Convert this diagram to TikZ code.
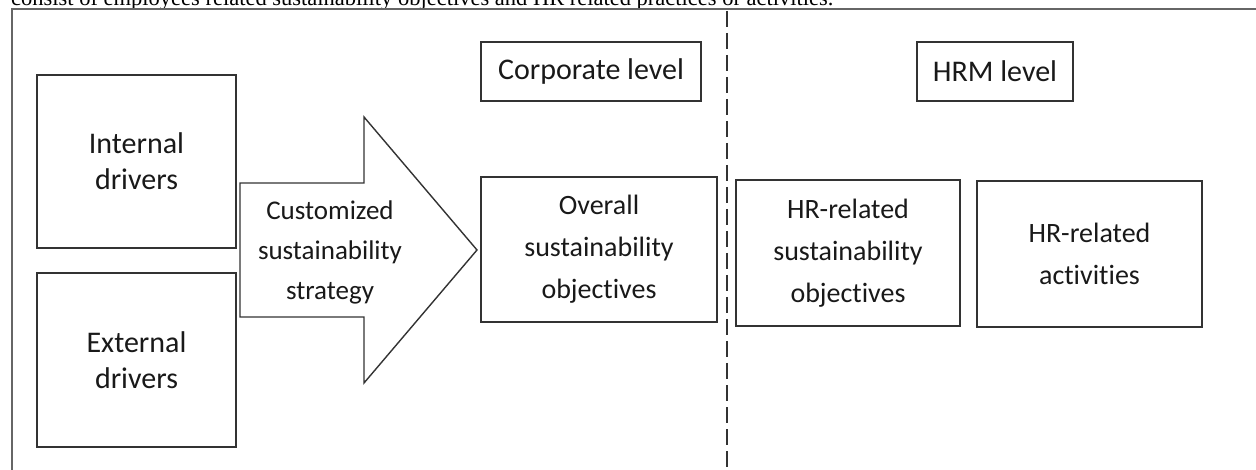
\documentclass[tikz,border=0pt]{standalone}
\usepackage{fontspec}
\setmainfont{Carlito}[Ligatures=NoCommon]
\newfontfamily\bodyserif{Liberation Serif}

\begin{document}
\begin{tikzpicture}[x=1pt,y=-1pt,
	line/.style={draw=black!80,line width=1.4pt},
	box/.style={line,align=center,inner sep=0pt,text=black!90,font=\fontsize{28}{42}\selectfont},
	label/.style={box,font=\fontsize{30}{36}\selectfont}]
	\useasboundingbox (0,0) rectangle (1256,470);
	\clip (0,0) rectangle (1256,470);
	
	% line of running text cut off above the figure
	\node[anchor=base west,inner sep=0pt,font=\bodyserif\fontsize{22.5}{22.5}\selectfont] (runtext) at (11,6)
		{consist of employees related sustainability objectives and HR related practices or activities.};
	
	% frame and divider
	\draw[line,draw=black!60] (1256,9) -- (12,9) -- (12,470);
	\draw[line,line width=1.3pt,dash pattern=on 16pt off 6pt] (727,11) -- (727,470);
	
	% drivers
	\node[label,minimum width=199pt,minimum height=173pt] (internal) at (136.5,161.5) {Internal\\drivers};
	\node[label,minimum width=199pt,minimum height=174pt] (external) at (136.5,360) {External\\drivers};
	
	% strategy arrow
	\draw[line,fill=white] (240,183) -- (364,183) -- (364,117) -- (477,250)
		-- (364,383) -- (364,317) -- (240,317) -- cycle;
	\node[align=center,text=black!90,font=\fontsize{27}{40}\selectfont] (strategy) at (330,252)
		{Customized\\sustainability\\strategy};
	
	% level headings
	\node[label,minimum width=220pt,minimum height=59pt] (corporate) at (591,71.5) {Corporate level};
	\node[label,minimum width=156pt,minimum height=59pt] (hrm) at (995,71.5) {HRM level};
	
	% objectives and activities
	\node[box,minimum width=236pt,minimum height=145pt] (overall) at (599,249.5) {Overall\\sustainability\\objectives};
	\node[box,minimum width=224pt,minimum height=146pt] (hrobj) at (848,253) {HR-related\\sustainability\\objectives};
	\node[box,minimum width=225pt,minimum height=146pt] (hracts) at (1089.5,254) {HR-related\\activities};
	
\end{tikzpicture}
\end{document}
